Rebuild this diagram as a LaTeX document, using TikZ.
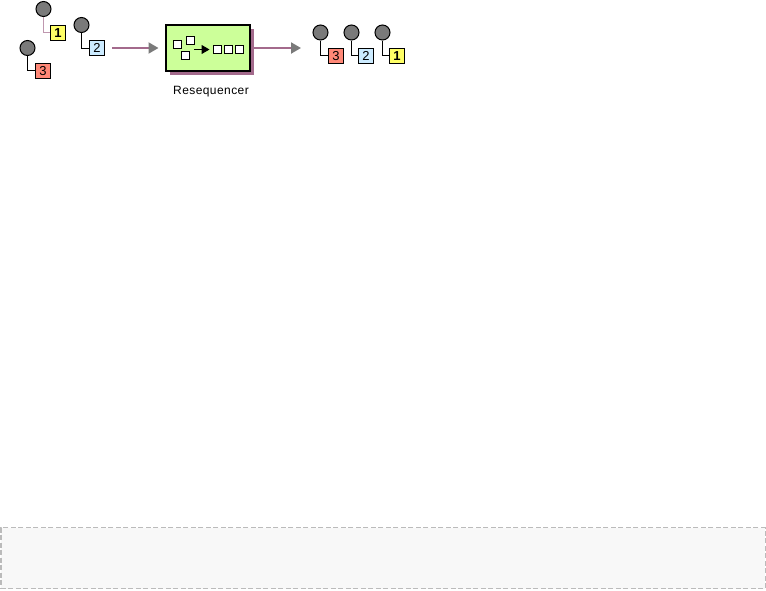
\documentclass[tikz,border=0pt]{standalone}
\usepackage{fontspec}
\setmainfont{Liberation Sans}
\usetikzlibrary{arrows.meta, positioning, shadows}

\begin{document}
\begin{tikzpicture}[x=1pt, y=-1pt]
\tikzset{token/.style={circle, draw, line width=1pt, fill=black!52, minimum size=15pt, inner sep=0pt},
		tag/.style={rectangle, draw, line width=1pt, minimum width=15pt, minimum height=15pt, inner sep=0pt, font=\fontsize{13}{13}\selectfont},
		tagA/.style={tag, fill=tagyellow, font=\fontsize{13}{13}\selectfont\bfseries},
		tagB/.style={tag, fill=tagblue},
		tagC/.style={tag, fill=tagred},
		link/.style={line width=1pt},
		flow/.style={line width=2pt, draw=flowcol, -{Triangle[length=10pt, width=11pt, color=black!52]}},
		cell/.style={rectangle, draw, line width=1pt, fill=white, minimum size=8pt, inner sep=0pt},
		proc/.style={rectangle, draw, line width=2pt, fill=procgreen, minimum width=84pt, minimum height=46pt, inner sep=0pt,
			copy shadow={shadow xshift=3.5pt, shadow yshift=-3.5pt, fill=flowcol, draw=none}}}
\definecolor{tagyellow}{HTML}{FFFF66}
\definecolor{tagblue}{HTML}{CCEBFF}
\definecolor{tagred}{HTML}{FF8877}
\definecolor{flowcol}{HTML}{A36A8C}
\definecolor{procgreen}{HTML}{CCFF99}
\definecolor{pagegray}{HTML}{F8F8F8}
\definecolor{dashgray}{HTML}{BBBBBB}
\useasboundingbox (0,0) rectangle (766,590);
% unordered messages
\node[token] (In1) at (43.5,9) {};
\node[tagA, below=8pt of In1, xshift=14.5pt] (TagIn1) {1};
\draw[link, draw=flowcol!70] (In1) |- ([yshift=.5pt]TagIn1.west);
\node[token] (In2) at (81.5,25) {};
\node[tagB, below=7pt of In2, xshift=15.5pt] (TagIn2) {2};
\draw[link] (In2) |- ([yshift=-.5pt]TagIn2.west);
\node[token] (In3) at (27.5,48) {};
\node[tagC, below=7pt of In3, xshift=15.5pt] (TagIn3) {3};
\draw[link] (In3) |- ([yshift=.5pt]TagIn3.west);
\coordinate (FlowStart) at (112,48);
\coordinate (FlowEnd) at (158.5,48);
\draw[flow] (FlowStart) -- (FlowEnd);
% the processor
\node[proc] (Reseq) at (208,48) {};
\node[below=11pt of Reseq, xshift=3pt, font=\fontsize{12}{12}\selectfont\addfontfeature{LetterSpace=3.5}] (ReseqLabel) {Resequencer};
\node[cell] (CellA) at (177.5,44.5) {};
\node[cell] (CellB) at (190.5,40.5) {};
\node[cell] (CellC) at (185.5,55.5) {};
\node[cell] (CellD) at (217.5,49.5) {};
\node[cell, right=2pt of CellD] (CellE) {};
\node[cell, right=2pt of CellE] (CellF) {};
\coordinate (MidStart) at (194,49.5);
\coordinate (MidEnd) at (209.5,49.5);
\draw[line width=1pt, -{Triangle[length=8pt, width=9pt]}] (MidStart) -- (MidEnd);
\coordinate (OutEnd) at (301,48);
\draw[flow] (Reseq.east |- OutEnd) -- (OutEnd);
% ordered messages
\node[token] (Out3) at (320.5,32.5) {};
\node[tagC, below=7.5pt of Out3, xshift=15.5pt] (TagOut3) {3};
\draw[link] (Out3) |- ([yshift=.5pt]TagOut3.west);
\node[token, right=15pt of Out3] (Out2) {};
\node[tagB, below=7.5pt of Out2, xshift=14.5pt] (TagOut2) {2};
\draw[link] (Out2) |- ([yshift=.5pt]TagOut2.west);
\node[token, right=15pt of Out2] (Out1) {};
\node[tagA, below=7.5pt of Out1, xshift=14.5pt] (TagOut1) {1};
\draw[link] (Out1) |- ([yshift=.5pt]TagOut1.west);
% empty panel
\node[rectangle, draw=dashgray, fill=pagegray, line width=1.5pt, dash pattern=on 5pt off 2.5pt, minimum width=764.5pt, minimum height=61pt, inner sep=0pt] (Panel) at (383,558) {};
\end{tikzpicture}
\end{document}
